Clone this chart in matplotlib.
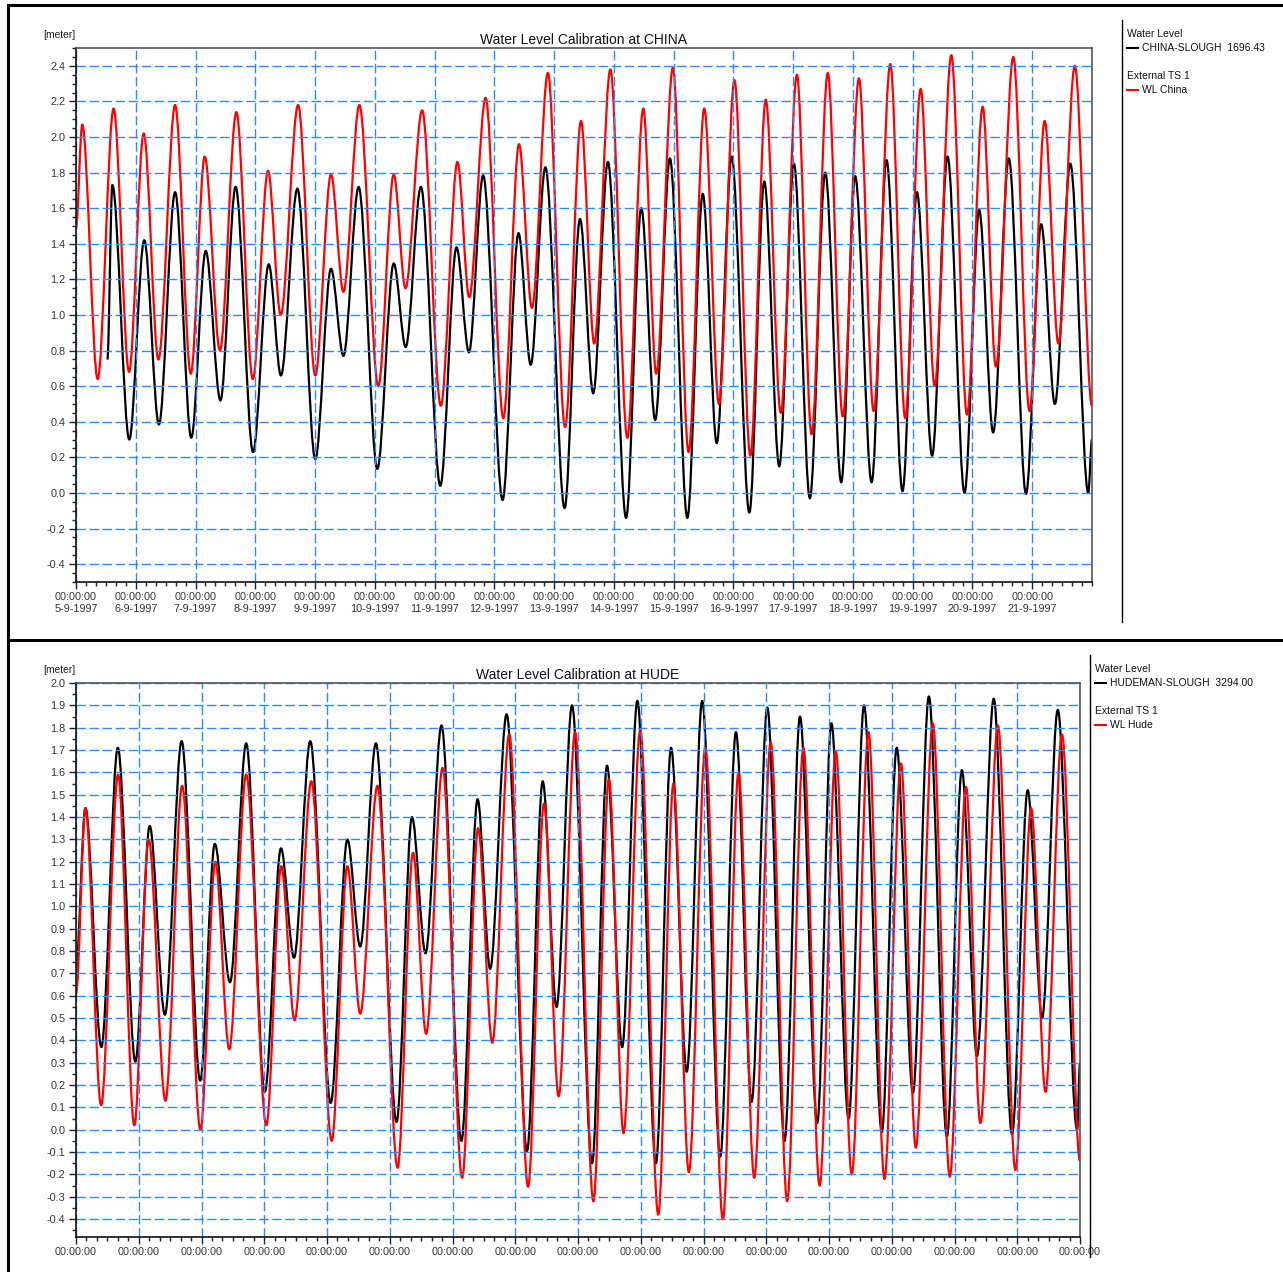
import matplotlib
matplotlib.use("Agg")
import matplotlib.pyplot as plt
import matplotlib.dates as mdates
from matplotlib.path import Path
from matplotlib.patches import PathPatch
from matplotlib.lines import Line2D
from matplotlib.ticker import FixedLocator, MultipleLocator, FuncFormatter
from datetime import datetime, timedelta

plt.rcParams['font.family'] = ['Liberation Sans', 'DejaVu Sans']

W, H = 1283, 1272
start = datetime(1997, 9, 5)

# --- CHINA: turning points (hours after 5-9-1997 00:00, level in m)
china_obs_hours = [0, 2.5, 8.7, 15.1, 21.3, 27.2, 33.1, 39.8, 46.1, 51.7,
                   57.8, 64.4, 71.0, 77.1, 82.2, 89.2, 96.1, 102.4, 107.4, 113.8,
                   121.4, 127.6, 132.3, 139.0, 146.5, 153.2, 157.9, 164.5, 171.6, 177.9,
                   183.1, 189.5, 196.4, 202.8, 208.1, 214.6, 221.4, 227.8, 233.0, 239.7,
                   246.0, 252.3, 258.2, 264.4, 270.8, 277.0, 283.0, 289.5, 295.4, 301.9,
                   307.9, 314.4, 320.3, 327.0, 333.0, 339.2, 344.8, 351.5, 357.8, 364.1,
                   369.4, 376.4, 382.9, 389.0, 394.5, 401.1, 408.0]
china_obs_level = [1.49, 2.07, 0.64, 2.16, 0.68, 2.02, 0.75, 2.18, 0.67, 1.89,
                   0.80, 2.14, 0.64, 1.81, 1.00, 2.18, 0.66, 1.79, 1.13, 2.18,
                   0.60, 1.79, 1.15, 2.15, 0.49, 1.86, 1.10, 2.22, 0.42, 1.96,
                   1.04, 2.36, 0.37, 2.09, 0.84, 2.38, 0.31, 2.16, 0.67, 2.39,
                   0.23, 2.16, 0.50, 2.32, 0.21, 2.21, 0.45, 2.35, 0.33, 2.36,
                   0.43, 2.33, 0.46, 2.41, 0.42, 2.27, 0.60, 2.46, 0.44, 2.17,
                   0.71, 2.45, 0.46, 2.09, 0.84, 2.40, 0.49]

china_sim_hours = [12.6, 14.6, 21.4, 27.4, 33.3, 39.8, 46.3, 52.1, 58.0, 64.1,
                   71.1, 77.4, 82.3, 88.9, 96.1, 102.4, 107.4, 113.5, 121.0, 127.6,
                   132.4, 138.5, 146.3, 152.8, 157.8, 163.5, 171.3, 177.7, 182.6, 188.5,
                   196.2, 202.4, 207.7, 213.6, 220.9, 227.0, 232.6, 238.5, 245.5, 251.7,
                   257.3, 263.3, 270.4, 276.4, 282.4, 288.3, 294.7, 300.9, 307.3, 312.9,
                   319.5, 325.5, 331.9, 337.7, 343.8, 350.0, 356.8, 362.7, 368.3, 374.6,
                   381.5, 387.6, 393.1, 399.3, 406.5, 408.0]
china_sim_level = [0.75, 1.73, 0.30, 1.42, 0.385, 1.69, 0.31, 1.36, 0.52, 1.72,
                   0.23, 1.285, 0.66, 1.71, 0.19, 1.26, 0.77, 1.72, 0.135, 1.29,
                   0.82, 1.72, 0.04, 1.38, 0.79, 1.785, -0.04, 1.46, 0.72, 1.83,
                   -0.085, 1.54, 0.56, 1.86, -0.14, 1.60, 0.41, 1.88, -0.14, 1.68,
                   0.28, 1.89, -0.11, 1.75, 0.15, 1.85, -0.03, 1.80, 0.06, 1.78,
                   0.06, 1.87, 0.01, 1.69, 0.21, 1.89, 0.00, 1.59, 0.34, 1.88,
                   -0.005, 1.51, 0.50, 1.85, 0.00, 0.30]

# --- HUDE
hude_sim_hours = [0, 3.6, 9.7, 16.0, 22.7, 28.2, 34.0, 40.4, 47.5, 53.1,
                  58.9, 65.1, 72.2, 78.4, 83.4, 89.6, 97.4, 103.8, 108.7, 114.7,
                  122.6, 128.5, 133.7, 139.8, 147.4, 153.6, 158.4, 164.7, 172.5, 178.5,
                  183.8, 189.7, 197.4, 203.1, 208.9, 214.7, 221.8, 227.6, 233.6, 239.5,
                  246.4, 252.4, 258.4, 264.4, 271.0, 276.9, 283.5, 288.9, 295.5, 301.4,
                  308.2, 313.9, 320.1, 326.2, 333.1, 338.8, 344.6, 351.0, 358.0, 364.0,
                  369.5, 375.5, 382.9, 384.0]
hude_sim_level = [0.72, 1.44, 0.37, 1.71, 0.305, 1.36, 0.515, 1.74, 0.22, 1.28,
                  0.66, 1.73, 0.17, 1.26, 0.77, 1.74, 0.12, 1.30, 0.82, 1.73,
                  0.035, 1.40, 0.79, 1.81, -0.05, 1.48, 0.72, 1.86, -0.095, 1.56,
                  0.55, 1.90, -0.15, 1.63, 0.37, 1.92, -0.15, 1.71, 0.26, 1.92,
                  -0.12, 1.78, 0.125, 1.89, -0.05, 1.85, 0.03, 1.82, 0.05, 1.90,
                  -0.01, 1.71, 0.165, 1.94, -0.03, 1.61, 0.33, 1.93, -0.02, 1.52,
                  0.50, 1.88, 0.0, 0.30]

hude_obs_hours = [0, 3.6, 9.6, 16.1, 22.3, 27.8, 34.2, 40.6, 47.6, 53.3,
                  58.6, 65.1, 72.8, 78.5, 83.6, 90.0, 97.8, 103.8, 108.7, 115.3,
                  123.0, 128.9, 133.9, 140.2, 147.7, 153.8, 159.2, 165.7, 172.9, 179.0,
                  184.6, 190.9, 197.9, 203.8, 209.4, 215.8, 222.7, 228.5, 234.4, 240.7,
                  247.4, 253.4, 259.4, 265.7, 272.0, 278.2, 284.4, 290.6, 296.7, 303.1,
                  309.2, 315.5, 321.2, 327.7, 334.2, 340.4, 345.9, 352.6, 359.3, 365.3,
                  370.8, 377.1, 384.0]
hude_obs_level = [0.61, 1.44, 0.11, 1.59, 0.02, 1.30, 0.13, 1.54, 0.00, 1.20,
                  0.36, 1.59, 0.02, 1.18, 0.49, 1.56, -0.05, 1.18, 0.52, 1.54,
                  -0.17, 1.24, 0.43, 1.62, -0.215, 1.35, 0.39, 1.77, -0.255, 1.46,
                  0.15, 1.78, -0.32, 1.57, -0.015, 1.79, -0.38, 1.55, -0.19, 1.71,
                  -0.40, 1.60, -0.215, 1.735, -0.32, 1.71, -0.25, 1.695, -0.20, 1.78,
                  -0.22, 1.64, -0.08, 1.82, -0.21, 1.535, 0.03, 1.81, -0.18, 1.44,
                  0.17, 1.77, -0.14]

label_days = list(range(5, 22))
china_days = 17
hude_days = 16
GRID = '#2b8cff'


def fx(px):
    return px / W


def fy(py):
    return 1 - py / H


def tide_path(hours, levels):
    # smooth curve through the turning points, flat tangent at each one
    x = mdates.date2num([start + timedelta(hours=h) for h in hours])
    verts = [(x[0], levels[0])]
    codes = [Path.MOVETO]
    for i in range(1, len(x)):
        d = (x[i] - x[i - 1]) / 3.0
        verts += [(x[i - 1] + d, levels[i - 1]), (x[i] - d, levels[i]), (x[i], levels[i])]
        codes += [Path.CURVE4] * 3
    return Path(verts, codes)


def setup_axes(ax, ndays, y0, y1, ymajor, fmt_x):
    ax.set_xlim(mdates.date2num(start), mdates.date2num(start + timedelta(days=ndays)))
    ax.set_ylim(y0, y1)
    ax.xaxis.set_major_locator(FixedLocator(
        mdates.date2num([datetime(1997, 9, d) for d in label_days])))
    ax.xaxis.set_minor_locator(mdates.HourLocator(byhour=range(0, 24, 4)))
    ax.xaxis.set_major_formatter(FuncFormatter(fmt_x))
    ax.yaxis.set_major_locator(MultipleLocator(ymajor))
    ax.yaxis.set_minor_locator(MultipleLocator(0.05))
    ax.yaxis.set_major_formatter(FuncFormatter(lambda v, p: f'{v:.1f}'))
    ax.tick_params(which='major', direction='out', length=5, width=1,
                   color='#222222', labelcolor='#333333', labelsize=7.8, pad=2.5)
    ax.tick_params(which='minor', direction='out', length=3, width=1, color='#222222')
    ax.grid(True, which='major', color=GRID, lw=1.0, dashes=(6.8, 2.6))
    for s in ax.spines.values():
        s.set_color('#555555')
        s.set_linewidth(1.2)
    ax.spines['left'].set_color('#111111')
    ax.spines['bottom'].set_color('#111111')


def date_label(v, p):
    d = mdates.num2date(v)
    return f'{d:%H:%M:%S}\n{d.day}-{d.month}-{d.year}'


fig = plt.figure(figsize=(W / 100, H / 100), dpi=100)

# --- upper panel: CHINA
ax1 = fig.add_axes([fx(76), fy(582), fx(1092) - fx(76), fy(48) - fy(582)])
setup_axes(ax1, china_days, -0.5, 2.5, 0.2, date_label)
for lbl in ax1.get_xticklabels():
    lbl.set_linespacing(1.25)
ax1.add_patch(PathPatch(tide_path(china_sim_hours, china_sim_level), fill=False,
                        edgecolor='black', lw=1.6, joinstyle='round'))
ax1.add_patch(PathPatch(tide_path(china_obs_hours, china_obs_level), fill=False,
                        edgecolor='#ff0000', lw=1.6, joinstyle='round'))
ax1.set_title('Water Level Calibration at CHINA', fontsize=10, pad=3, color='#111111')
fig.text(fx(43), fy(35), '[meter]', fontsize=7.4, ha='left', va='center', color='#222222')

# --- lower panel: HUDE
ax2 = fig.add_axes([fx(76), fy(1237), fx(1080) - fx(76), fy(683) - fy(1237)])
setup_axes(ax2, hude_days, -0.48, 2.0, 0.1, lambda v, p: mdates.num2date(v).strftime('%H:%M:%S'))
ax2.add_patch(PathPatch(tide_path(hude_sim_hours, hude_sim_level), fill=False,
                        edgecolor='black', lw=1.6, joinstyle='round'))
ax2.add_patch(PathPatch(tide_path(hude_obs_hours, hude_obs_level), fill=False,
                        edgecolor='#ff0000', lw=1.6, joinstyle='round'))
ax2.set_title('Water Level Calibration at HUDE', fontsize=10, pad=3, color='#111111')
fig.text(fx(43), fy(670), '[meter]', fontsize=7.4, ha='left', va='center', color='#222222')


# --- legend blocks at the right
def legend_block(x, y, sim_name, obs_name):
    fs = 7.5
    fig.text(fx(x), fy(y), 'Water Level', fontsize=fs, va='center', color='#111111')
    fig.add_artist(Line2D([fx(x), fx(x + 11)], [fy(y + 14)] * 2, color='black', lw=1.5,
                          transform=fig.transFigure))
    fig.text(fx(x + 15), fy(y + 14), sim_name, fontsize=fs, va='center', color='#111111')
    fig.text(fx(x), fy(y + 42), 'External TS 1', fontsize=fs, va='center', color='#111111')
    fig.add_artist(Line2D([fx(x), fx(x + 11)], [fy(y + 56)] * 2, color='#ff0000', lw=1.5,
                          transform=fig.transFigure))
    fig.text(fx(x + 15), fy(y + 56), obs_name, fontsize=fs, va='center', color='#111111')


legend_block(1127, 34, 'CHINA-SLOUGH  1696.43', 'WL China')
legend_block(1095, 669, 'HUDEMAN-SLOUGH  3294.00', 'WL Hude')

# --- page frame and separators
frame = [
    ([fx(8), fx(W)], [fy(5), fy(5)], 2.2),
    ([fx(8), fx(8)], [fy(5), fy(H)], 2.2),
    ([fx(8), fx(W)], [fy(640), fy(640)], 2.2),
    ([fx(1122), fx(1122)], [fy(20), fy(622)], 1.0),
    ([fx(1090), fx(1090)], [fy(655), fy(1257)], 1.0),
]
for xs, ys, lw in frame:
    fig.add_artist(Line2D(xs, ys, color='black', lw=lw, transform=fig.transFigure))

fig.savefig('out.png', dpi=100)
